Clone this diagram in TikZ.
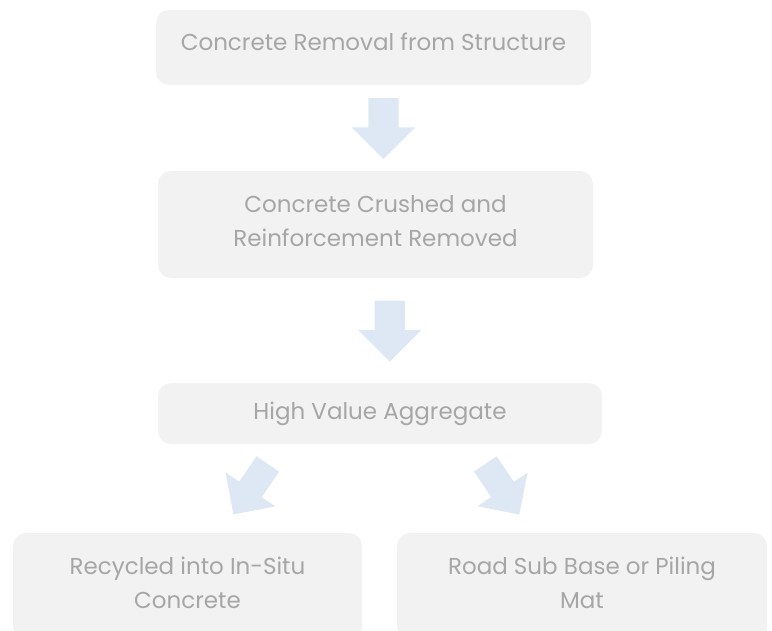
\documentclass[tikz,border=0pt]{standalone}
\usepackage{fontspec}
\setmainfont{Poppins}
\usetikzlibrary{shapes.arrows,calc}
\definecolor{boxgray}{HTML}{F2F2F2}
\definecolor{textgray}{HTML}{A6A6A6}
\definecolor{arrowblue}{HTML}{DDE8F4}
\tikzset{
	stepbox/.style={fill=boxgray, rounded corners=13pt, text=textgray, align=center,
		font=\fontsize{23}{34}\selectfont, inner sep=0pt},
	flowarrow/.style={single arrow, fill=arrowblue, draw=none, inner xsep=0pt, inner ysep=15pt,
		minimum height=61pt, minimum width=63pt, single arrow head extend=16.5pt}
}
\begin{document}
\begin{tikzpicture}[x=1pt, y=-1pt]
	\useasboundingbox (0,0) rectangle (772,630);
	\node[stepbox, minimum width=435pt, minimum height=75pt, text depth=12pt] (removal) at (373.5, 47.5) {Concrete Removal from Structure};
	\node[stepbox, minimum width=435pt, minimum height=107pt, text depth=8pt] (crushed) at (375.5, 224.5) {Concrete Crushed and\\Reinforcement Removed};
	\node[stepbox, minimum width=444pt, minimum height=61pt] (aggregate) at (380, 413.5) {High Value Aggregate};
	\node[stepbox, minimum width=349pt, minimum height=107pt, text depth=8pt] (insitu) at (187.5, 586.5) {Recycled into In-Situ\\Concrete};
	\node[stepbox, minimum width=370pt, minimum height=107pt, text depth=8pt] (subbase) at (582, 586.5) {Road Sub Base or Piling\\Mat};
	% block arrows between the steps
	\node[flowarrow, rotate=-90] (arr1) at ($(removal.south)!0.5!(crushed.north) + (9,-7)$) {};
	\node[flowarrow, rotate=-90] (arr2) at ($(crushed.south)!0.5!(aggregate.north) + (12,-7)$) {};
	\node[flowarrow, rotate=-124.3, minimum width=60pt, inner ysep=13.5pt] (arr3) at (254.5, 483.5) {};
	\node[flowarrow, rotate=-56.2, minimum width=60pt, inner ysep=13.5pt] (arr4) at (498.5, 483.5) {};
\end{tikzpicture}
\end{document}
